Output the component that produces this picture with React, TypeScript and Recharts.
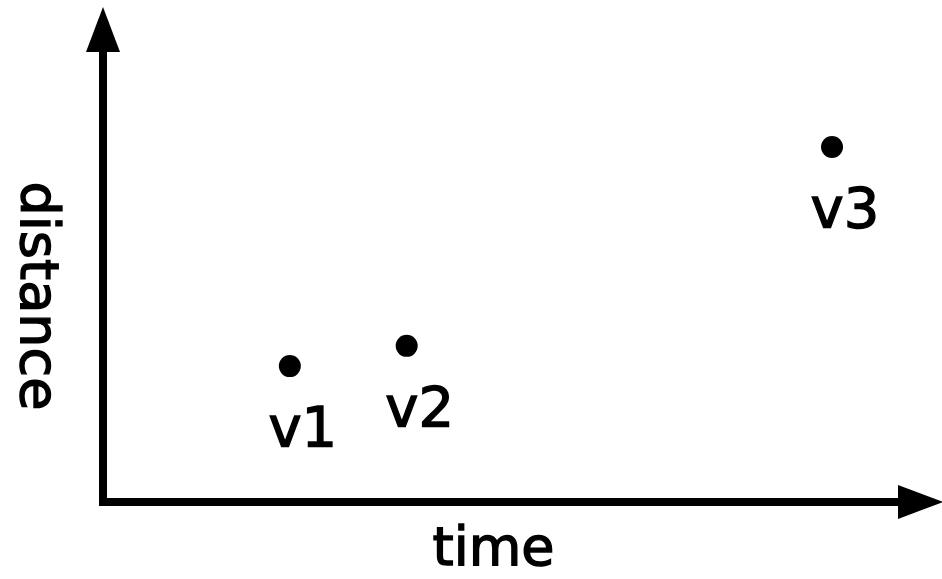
import React from 'react';
import { ScatterChart, Scatter, XAxis, YAxis } from 'recharts';

const pointNames = ['v1', 'v2', 'v3'];
const timeValues = [2.35, 3.82, 9.17];
const distanceValues = [3.02, 3.47, 7.89];
const xAxisTitle = 'time';
const yAxisTitle = 'distance';

const data = pointNames.map((name, i) => ({
  name,
  time: timeValues[i],
  distance: distanceValues[i],
}));

const FONT = '"DejaVu Sans", sans-serif';

const PointShape = (props: any) => {
  const { cx, cy, payload } = props;
  return (
    <g>
      <circle cx={cx} cy={cy} r={11} fill="#000" />
      <text
        x={cx + 13}
        y={cy + 80}
        textAnchor="middle"
        fontFamily={FONT}
        fontSize={56}
        fill="#000"
        stroke="#000"
        strokeWidth={1.4}
      >
        {payload.name}
      </text>
    </g>
  );
};

const XTitle = (props: any) => {
  const vb = props.viewBox || {};
  const x = vb.x + vb.width / 2 - 7;
  const y = vb.y + 63;
  return (
    <text x={x} y={y} textAnchor="middle" fontFamily={FONT} fontSize={54} fill="#000" stroke="#000" strokeWidth={1.4}>
      {xAxisTitle}
    </text>
  );
};

const YTitle = (props: any) => {
  const vb = props.viewBox || {};
  const x = vb.x + 21;
  const y = vb.y + vb.height / 2 + 19;
  return (
    <text
      x={x}
      y={y}
      textAnchor="middle"
      transform={`rotate(90, ${x}, ${y})`}
      fontFamily={FONT}
      fontSize={54}
      fill="#000"
      stroke="#000"
      strokeWidth={1.4}
    >
      {yAxisTitle}
    </text>
  );
};

export default function App() {
  return (
    <div style={{ position: 'absolute', left: 0, top: 0, width: 942, height: 579, background: '#fff' }}>
      <svg width={0} height={0} style={{ position: 'absolute' }}>
        <defs>
          <marker
            id="axisArrow"
            viewBox="0 0 45 34"
            refX={0}
            refY={17}
            markerWidth={45}
            markerHeight={34}
            markerUnits="userSpaceOnUse"
            orient="auto-start-reverse"
          >
            <path d="M0,0 L45,17 L0,34 Z" fill="#000" />
          </marker>
        </defs>
      </svg>
      <ScatterChart width={942} height={579} margin={{ top: 52, right: 44, bottom: 0, left: 0 }}>
        <XAxis
          type="number"
          dataKey="time"
          domain={[0, 10]}
          allowDataOverflow
          height={77}
          tick={false}
          tickLine={false}
          axisLine={{ stroke: '#000', strokeWidth: 8, strokeLinecap: 'square', markerEnd: 'url(#axisArrow)' } as any}
          label={{ content: XTitle } as any}
        />
        <YAxis
          type="number"
          dataKey="distance"
          domain={[0, 10]}
          allowDataOverflow
          width={103}
          tick={false}
          tickLine={false}
          axisLine={{ stroke: '#000', strokeWidth: 8, strokeLinecap: 'square', markerStart: 'url(#axisArrow)' } as any}
          label={{ content: YTitle } as any}
        />
        <Scatter data={data} shape={PointShape} isAnimationActive={false} />
      </ScatterChart>
    </div>
  );
}
